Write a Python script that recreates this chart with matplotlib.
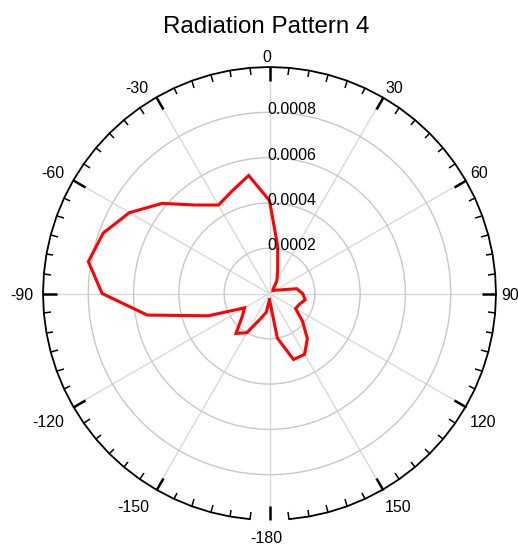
import numpy as np
import matplotlib
matplotlib.use("Agg")
import matplotlib.pyplot as plt

# ---- data ----
angles_deg = [-180, -170, -160, -150, -140, -130, -120, -110, -100, -90,
              -80, -70, -60, -50, -40, -30, -20, -10, 0,
              10, 20, 30, 40, 50, 60, 70, 80, 90,
              100, 110, 120, 130, 140, 150, 160, 170, 180]
gain = [0.000027, 0.000085, 0.000120, 0.000200, 0.000230, 0.000157, 0.000127, 0.000288, 0.000548, 0.000739,
        0.000812, 0.000781, 0.000714, 0.000619, 0.000510, 0.000451, 0.000482, 0.000529, 0.000410,
        0.000210, 0.000105, 0.000065, 0.000025, 0.000020, 0.000030, 0.000045, 0.000122, 0.000146,
        0.000160, 0.000140, 0.000133, 0.000190, 0.000260, 0.000310, 0.000310, 0.000200, 0.000027]
r_ticks = [0.0002, 0.0004, 0.0006, 0.0008]
r_tick_labels = ["0.0002", "0.0004", "0.0006", "0.0008"]
theta_label_deg = [0, 30, 60, 90, 120, 150, 180, -150, -120, -90, -60, -30]
theta_labels = ["0", "30", "60", "90", "120", "150", "-180", "-150", "-120", "-90", "-60", "-30"]
r_max = 0.001
title = "Radiation Pattern 4"

plt.rcParams['font.family'] = ['Liberation Sans', 'DejaVu Sans']

W, H = 518, 547
fig = plt.figure(figsize=(W / 100, H / 100), dpi=100)
ax = fig.add_axes([43 / W, (H - 520) / H, 453 / W, 453 / H], projection='polar')
ax.set_theta_zero_location('N')
ax.set_theta_direction(-1)

# theta ticks (0..360 so the full circle is kept)
major = np.deg2rad(np.arange(0, 360, 30))
minor = np.deg2rad([a for a in range(0, 360, 5) if a % 30 != 0])
ax.set_xticks(major)
ax.set_xticks(minor, minor=True)
ax.set_xticklabels([])
ax.set_xlim(0, 2 * np.pi)
ax.set_ylim(0, r_max)
ax.spines['polar'].set_visible(False)
ax.tick_params(axis='x', which='both', top=True, bottom=False)
ax.tick_params(axis='x', which='major', direction='in', length=10, width=1.8, color='black', pad=0)
ax.tick_params(axis='x', which='minor', direction='in', length=5, width=1.1, color='black')
ax.set_yticks(r_ticks)
ax.set_yticklabels([])
ax.tick_params(axis='y', length=0)
ax.xaxis.grid(True, which='major', color='#d9d9d9', lw=1.0)
ax.yaxis.grid(True, color='#c8c8c8', lw=1.0)

# outer boundary (open at the bottom, as in the reference)
border_t = np.deg2rad(np.arange(-175, 176, 5))
ax.plot(border_t, np.full(border_t.shape, r_max), color='black', lw=1.3,
        clip_on=False, zorder=3)

# data curve
ax.plot(np.deg2rad(angles_deg), gain, color='red', lw=2.2,
        solid_joinstyle='miter', zorder=4)

# radial labels
for r, lab in zip(r_ticks, r_tick_labels):
    ax.annotate(lab, xy=(0, r), xytext=(-2, 2.5), textcoords='offset pixels',
                ha='left', va='center', fontsize=11.5, color='black', zorder=5)

# angular labels
pad = 5
for a, lab in zip(theta_label_deg, theta_labels):
    s, c = np.sin(np.deg2rad(a)), np.cos(np.deg2rad(a))
    ha = 'center' if abs(s) < 0.1 else ('left' if s > 0 else 'right')
    va = 'center' if abs(c) < 0.1 else ('bottom' if c > 0 else 'top')
    dx, dy = pad * s, pad * c
    if c < -0.3:
        dy -= 6
    if c > 0.1:
        dy -= 3
    if ha == 'center':
        dx -= 3
    if s < -0.1:
        dx -= 5
    if va == 'center':
        dy -= 2
    ax.annotate(lab, xy=(np.deg2rad(a), r_max), xytext=(dx, dy),
                textcoords='offset pixels', ha=ha, va=va, fontsize=11.5,
                annotation_clip=False)

fig.text(266.5 / W, 1 - 33 / H, title, ha='center', va='baseline', fontsize=17.4)

fig.savefig('out.png', dpi=100)
